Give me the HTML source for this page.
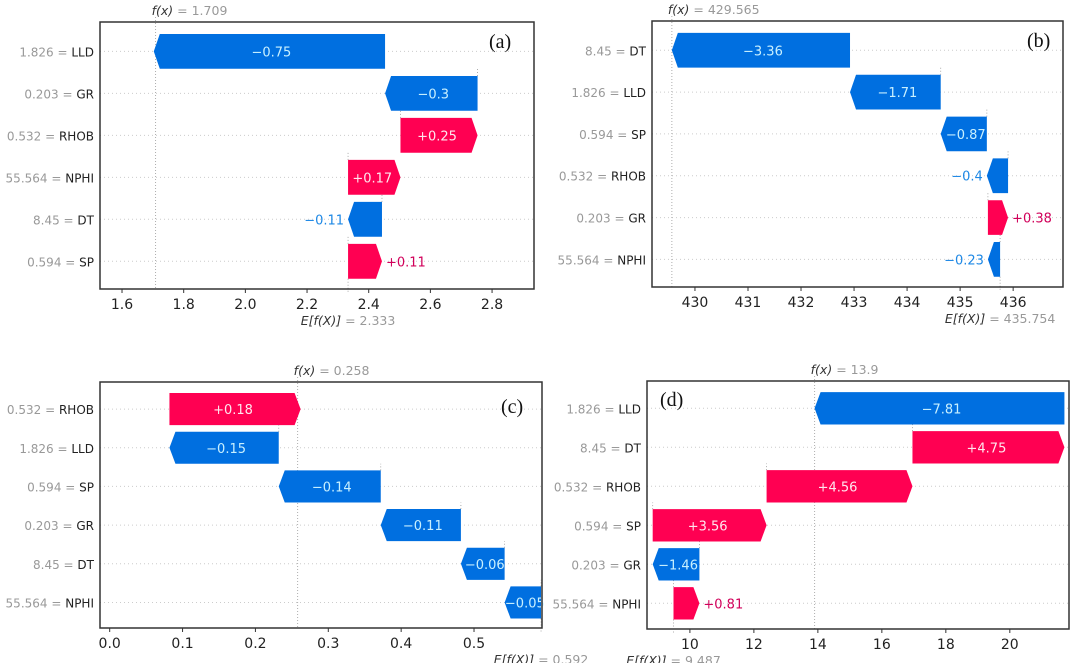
<!DOCTYPE html>
<html><head><meta charset="utf-8">
<style>
html,body{margin:0;padding:0;background:#fff;}
svg{display:block;font-family:"DejaVu Sans","Liberation Sans",sans-serif;}
</style></head>
<body>
<svg id="fig" width="1080" height="663" viewBox="0 0 1080 663" xmlns="http://www.w3.org/2000/svg"></svg>
<script>
// Panel (a)
const namesA = ["LLD","GR","RHOB","NPHI","DT","SP"];
const featValsA = ["1.826","0.203","0.532","55.564","8.45","0.594"];
const shapA = [-0.75,-0.3,0.25,0.17,-0.11,0.11];
const baseA = 2.333;
const fxA = 1.709;
const ticksA = [1.6,1.8,2.0,2.2,2.4,2.6,2.8];
const tickLabelsA = ["1.6","1.8","2.0","2.2","2.4","2.6","2.8"];
// Panel (b)
const namesB = ["DT","LLD","SP","RHOB","GR","NPHI"];
const featValsB = ["8.45","1.826","0.594","0.532","0.203","55.564"];
const shapB = [-3.36,-1.71,-0.87,-0.4,0.38,-0.23];
const baseB = 435.754;
const fxB = 429.565;
const ticksB = [430,431,432,433,434,435,436];
const tickLabelsB = ["430","431","432","433","434","435","436"];
// Panel (c)
const namesC = ["RHOB","LLD","SP","GR","DT","NPHI"];
const featValsC = ["0.532","1.826","0.594","0.203","8.45","55.564"];
const shapC = [0.18,-0.15,-0.14,-0.11,-0.06,-0.05];
const baseC = 0.592;
const fxC = 0.258;
const ticksC = [0,0.1,0.2,0.3,0.4,0.5];
const tickLabelsC = ["0.0","0.1","0.2","0.3","0.4","0.5"];
// Panel (d)
const namesD = ["LLD","DT","RHOB","SP","GR","NPHI"];
const featValsD = ["1.826","8.45","0.532","0.594","0.203","55.564"];
const shapD = [-7.81,4.75,4.56,3.56,-1.46,0.81];
const baseD = 9.487;
const fxD = 13.9;
const ticksD = [10,12,14,16,18,20];
const tickLabelsD = ["10","12","14","16","18","20"];

const NS="http://www.w3.org/2000/svg";
const svg=document.getElementById('fig');
function mk(tag,attrs,parent,text){
  const e=document.createElementNS(NS,tag);
  for(const k in attrs)e.setAttribute(k,attrs[k]);
  if(text!==undefined)e.textContent=text;
  parent.appendChild(e);return e;
}
function fmt(v,dec){return (v<0?"\u2212":"+")+Math.abs(v).toFixed(dec).replace(/\.?0+$/,"");}

function panel(id,box,dom,names,fvals,shap,base,fx,ticks,tlabels,tag,tagPos,valDec){
  const g=mk('g',{},svg);
  
  
  const X=v=>box.x0+(v-dom[0])/(dom[1]-dom[0])*(box.x1-box.x0);
  const n=names.length;
  const H=box.y1-box.y0;
  const step=H/(n+0.36);
  const Y=i=>box.y0+step*0.7+i*step;
  const bh=step*0.83;
  for(let i=0;i<n;i++){
    const l=mk('line',{x1:box.x0,x2:box.x1,y1:Y(i),y2:Y(i),stroke:'#ccc','stroke-width':1,'stroke-dasharray':'1,3'},g);
    
    
  }
  const fl=mk('line',{x1:X(fx),x2:X(fx),y1:box.y0-5,y2:box.y1,stroke:'#999','stroke-width':0.8,'stroke-dasharray':'1,2'},g);
  
  
  let cum=base;
  const starts=[],ends=[];
  for(let i=n-1;i>=0;i--){starts[i]=cum;cum+=shap[i];ends[i]=cum;}
  const bl=mk('line',{x1:X(base),x2:X(base),y1:Y(n-1)+bh/2,y2:box.y1+4,stroke:'#999','stroke-width':0.8,'stroke-dasharray':'1,2'},g);
  
  
  for(let i=0;i<n;i++){
    const s=shap[i],pos=s>0;
    const xa=X(starts[i]),xb=X(ends[i]);
    const left=Math.min(xa,xb),right=Math.max(xa,xb),w=right-left;
    const hl=Math.min(6,w);
    const yt=Y(i)-bh/2,yb=Y(i)+bh/2,yc=Y(i);
    let pts;
    if(pos) pts=`${left},${yt} ${right-hl},${yt} ${right},${yc} ${right-hl},${yb} ${left},${yb}`;
    else pts=`${right},${yt} ${left+hl},${yt} ${left},${yc} ${left+hl},${yb} ${right},${yb}`;
    const p=mk('polygon',{points:pts,fill:pos?'#ff0052':'#006fe0'},g);
    
    
    if(i>0){
      const c=mk('line',{x1:xa,x2:xa,y1:yt,y2:Y(i-1)+bh/2,stroke:'#999','stroke-width':0.8,'stroke-dasharray':'1,2'},g);
      
      
    }
    const txt=fmt(s,valDec);
    let t;
    if(w>=35){
      t=mk('text',{x:(left+right)/2+(pos?-2:2),y:yc+5,'text-anchor':'middle','font-size':13,fill:pos?'#ffe6ee':'#c8f0ff'},g,txt);
    }else if(pos){
      t=mk('text',{x:right+4,y:yc+5,'text-anchor':'start','font-size':13,fill:'#d1005a'},g,txt);
    }else{
      t=mk('text',{x:left-4,y:yc+5,'text-anchor':'end','font-size':13,fill:'#1e88e5'},g,txt);
    }
    
    
    const yl=mk('text',{x:box.x0-6,y:yc+5,'text-anchor':'end','font-size':12},g);
    
    
    mk('tspan',{fill:'#999'},yl,fvals[i]+' = ');
    mk('tspan',{fill:'#222'},yl,names[i]);
  }
  const fr=mk('rect',{x:box.x0,y:box.y0,width:box.x1-box.x0,height:H,fill:'none',stroke:'#333','stroke-width':1.5},g);
  
  
  for(let k=0;k<ticks.length;k++){
    const tx=X(ticks[k]);
    mk('line',{x1:tx,x2:tx,y1:box.y1,y2:box.y1+4,stroke:'#333','stroke-width':1},g);
    const tl=mk('text',{x:tx,y:box.y1+20,'text-anchor':'middle','font-size':14,fill:'#222'},g,tlabels[k]);
    
    
  }
  const fxl=mk('text',{x:X(fx)-4,y:box.y0-7,'text-anchor':'start','font-size':12.5,fill:'#999'},g);
  
  
  mk('tspan',{fill:'#333','font-style':'italic'},fxl,'f(x)');
  mk('tspan',{},fxl,' = '+fx);
  const el=mk('text',{x:X(base),y:box.y1+36,'text-anchor':'middle','font-size':12.5,fill:'#999'},g);
  
  
  mk('tspan',{fill:'#333','font-style':'italic'},el,'E[f(X)]');
  mk('tspan',{},el,' = '+base);
  const pl=mk('text',{x:tagPos[0],y:tagPos[1],'font-size':20,fill:'#111','font-family':'"Liberation Serif",serif'},g,tag);
  
  
}
panel('a',{x0:100,x1:534,y0:22,y1:289},[1.5286,2.936],namesA,featValsA,shapA,baseA,fxA,ticksA,tickLabelsA,'(a)',[489,48],2);
panel('b',{x0:652,x1:1063,y0:21,y1:287},[429.19,436.94],namesB,featValsB,shapB,baseB,fxB,ticksB,tickLabelsB,'(b)',[1027,47],2);
panel('c',{x0:100,x1:542,y0:382,y1:628},[-0.0133,0.5933],namesC,featValsC,shapC,baseC,fxC,ticksC,tickLabelsC,'(c)',[501,413],2);
panel('d',{x0:647,x1:1069,y0:381,y1:629},[8.659,21.85],namesD,featValsD,shapD,baseD,fxD,ticksD,tickLabelsD,'(d)',[660,406],2);
</script>
</body></html>
